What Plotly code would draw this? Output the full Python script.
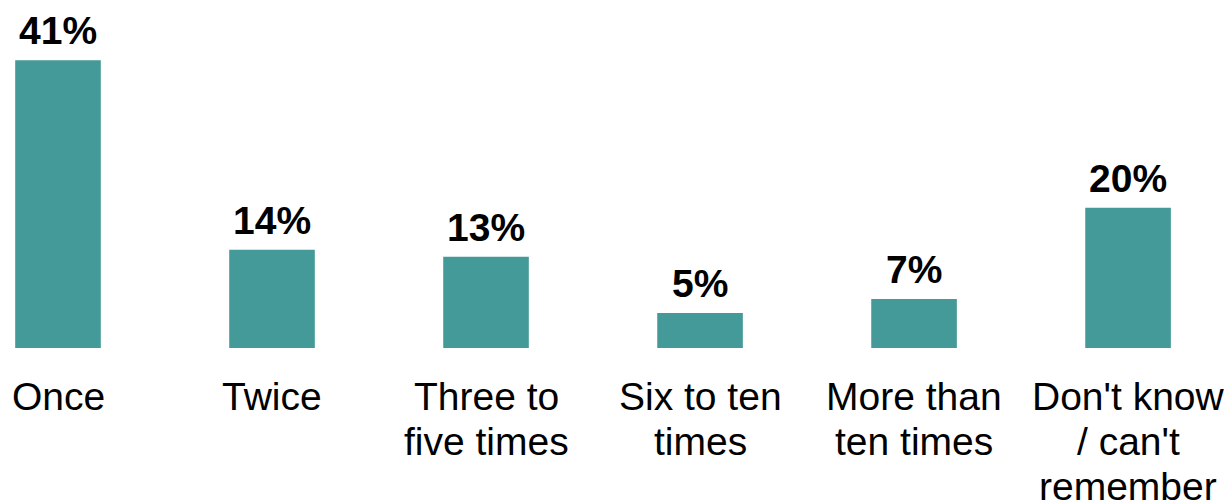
import plotly.graph_objects as go

categories = ["Once", "Twice", "Three to<br>five times", "Six to ten<br>times",
              "More than<br>ten times", "Don't know<br>/ can't<br>remember"]
values = [41, 14, 13, 5, 7, 20]
value_labels = ["41%", "14%", "13%", "5%", "7%", "20%"]

BAR_COLOR = "#439A99"
FONT = "Arial, Liberation Sans, sans-serif"

x_idx = list(range(len(categories)))

fig = go.Figure()
fig.add_trace(go.Bar(x=x_idx, y=values, width=0.40, marker=dict(color=BAR_COLOR, line=dict(width=0)),
                     hoverinfo="skip"))

annotations = []
for xi, v, lab in zip(x_idx, values, value_labels):
    annotations.append(dict(x=xi, y=v, xref="x", yref="y", text=f"<b>{lab}</b>",
                            showarrow=False, yanchor="bottom", yshift=6,
                            font=dict(family=FONT, size=39, color="#000000")))
for xi, cat in zip(x_idx, categories):
    for li, line in enumerate(cat.split("<br>")):
        annotations.append(dict(x=xi, y=0, xref="x", yref="paper", text=line,
                                showarrow=False, yanchor="top", yshift=-25 - 45 * li,
                                font=dict(family=FONT, size=39, color="#000000")))

fig.update_layout(
    width=1228, height=500,
    margin=dict(l=0, r=0, t=0, b=152, pad=0),
    paper_bgcolor="white", plot_bgcolor="white",
    showlegend=False,
    font=dict(family=FONT, size=39, color="#000000"),
    xaxis=dict(range=[-0.271, 5.467], showticklabels=False, showgrid=False, zeroline=False,
               showline=False, ticks="", fixedrange=True),
    yaxis=dict(range=[0, 49.6], visible=False, showgrid=False, zeroline=False, fixedrange=True),
    annotations=annotations,
)

fig.write_html("out.html", config={"displayModeBar": False},
               post_script="document.body.style.margin='0';document.body.style.overflow='hidden';")
